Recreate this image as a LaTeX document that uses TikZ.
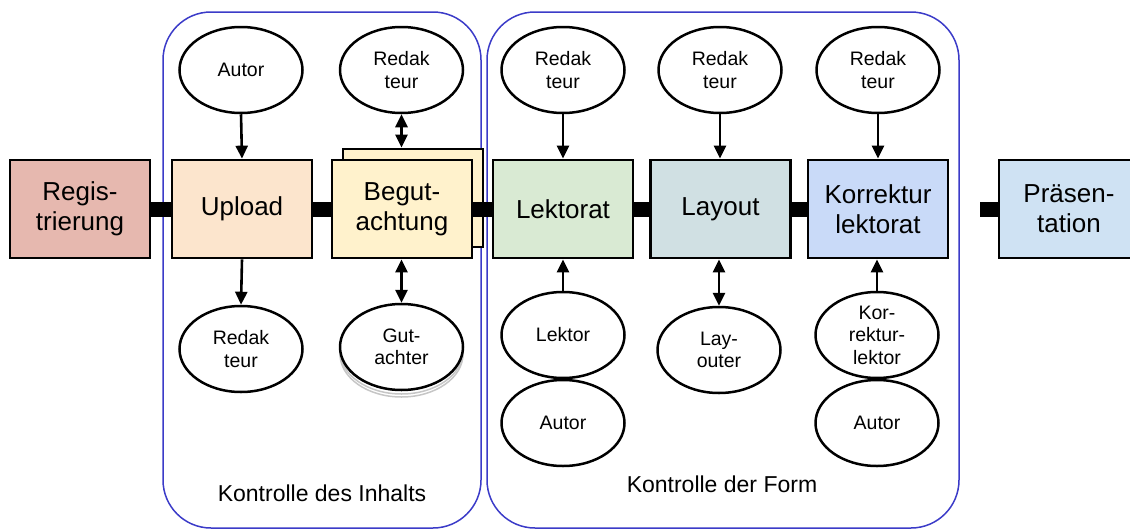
\documentclass[tikz,border=0pt]{standalone}
\usepackage{fontspec}
\setmainfont{Liberation Sans}
\usetikzlibrary{shapes.geometric,arrows.meta}
\definecolor{cReg}{HTML}{E6B8AF}
\definecolor{cUp}{HTML}{FCE5CD}
\definecolor{cBeg}{HTML}{FFF2CC}
\definecolor{cLek}{HTML}{D9EAD3}
\definecolor{cLay}{HTML}{D0E0E3}
\definecolor{cKor}{HTML}{C9DAF8}
\definecolor{cPra}{HTML}{CFE2F3}
\definecolor{cBlue}{HTML}{3B3BC8}
\tikzset{
  stagebox/.style={draw=black, line width=2.7pt, rectangle, inner sep=0pt,
    minimum width=140pt, minimum height=98pt, align=center,
    font=\fontsize{26}{30}\selectfont},
  actor/.style={draw=black, line width=2.5pt, ellipse, fill=white, inner sep=0pt,
    minimum width=123pt, minimum height=86pt, align=center,
    font=\fontsize{19.5}{22.5}\selectfont},
  shadowell/.style={draw=gray!45, line width=1.5pt, ellipse, inner sep=0pt,
    minimum width=123pt, minimum height=86pt},
  flow/.style={line width=15pt},
  onearrow/.style={line width=2.6pt, -{Triangle[length=13pt,width=12pt]}},
  twoarrow/.style={line width=2.6pt, {Triangle[length=13pt,width=12pt]}-{Triangle[length=13pt,width=12pt]}},
  group/.style={draw=cBlue, line width=1.5pt, rounded corners=48pt},
  grouplabel/.style={font=\fontsize{23}{27}\selectfont, inner sep=0pt}
}
\begin{document}
\begin{tikzpicture}[x=1pt,y=-1pt]
\useasboundingbox (0,0) rectangle (1130,530);
% groups
\draw[group] (163,12) rectangle (481,528);
\draw[group] (487,12) rectangle (959,528);
\node[grouplabel] (lab1) at (322,493) {Kontrolle des Inhalts};
\node[grouplabel] (lab2) at (722,484) {Kontrolle der Form};
% stage boxes
\node[stagebox, fill=cReg] (reg) at (80,209) {Regis-\\trierung};
\node[stagebox, fill=cUp] (up) at (242,209) {Upload};
\node[stagebox, fill=cBeg] (begback) at (413,198) {};
\node[stagebox, fill=cBeg] (beg) at (402,209) {Begut-\\achtung};
\node[stagebox, fill=cLek] (lek) at (563,209) {Lektorat};
\node[stagebox, fill=cLay] (lay) at (720.5,209) {Layout};
\node[stagebox, fill=cKor] (kor) at (878,209) {Korrektur\\lektorat};
\node[stagebox, fill=cPra] (pra) at (1069,209) {Präsen-\\tation};
\coordinate (stub) at (980,209);
% flow bars
\draw[flow] (reg.east) -- (up.west);
\draw[flow] (up.east) -- (beg.west);
\draw[flow] (beg.east) -- (lek.west);
\draw[flow] (lek.east) -- (lay.west);
\draw[flow] (lay.east) -- (kor.west);
\draw[flow] (stub) -- (pra.west);
% top actors
\node[actor] (autor1) at (241,70) {Autor};
\node[actor] (red1) at (401.5,70) {Redak\\teur};
\node[actor] (red2) at (563,70) {Redak\\teur};
\node[actor] (red3) at (720,70) {Redak\\teur};
\node[actor] (red4) at (878,70) {Redak\\teur};
% bottom actors
\node[actor] (red0) at (241,349) {Redak\\teur};
\node[shadowell] (gsh2) at (401.5,354) {};
\node[shadowell] (gsh1) at (401.5,351) {};
\node[actor] (gut) at (401.5,347) {Gut-\\achter};
\node[actor] (lektor) at (563,335) {Lektor};
\node[actor] (autor2) at (563,423) {Autor};
\node[actor] (layouter) at (719,350) {Lay-\\outer};
\node[actor] (korlek) at (877,335) {Kor-\\rektur-\\lektor};
\node[actor] (autor3) at (877,423) {Autor};
% arrows
\draw[onearrow] (autor1.south) -- (up.north);
\draw[onearrow] (up.south) -- (red0.north);
\draw[twoarrow] (red1.south) -- (red1.south |- begback.north);
\draw[twoarrow] (gut.north |- beg.south) -- (gut.north);
\draw[onearrow] (red2.south) -- (lek.north);
\draw[onearrow] (lektor.north) -- (lek.south);
\draw[onearrow] (red3.south) -- (red3.south |- lay.north);
\draw[twoarrow] (layouter.north |- lay.south) -- (layouter.north);
\draw[onearrow] (red4.south) -- (kor.north);
\draw[onearrow] (korlek.north) -- (korlek.north |- kor.south);
\end{tikzpicture}
\end{document}
